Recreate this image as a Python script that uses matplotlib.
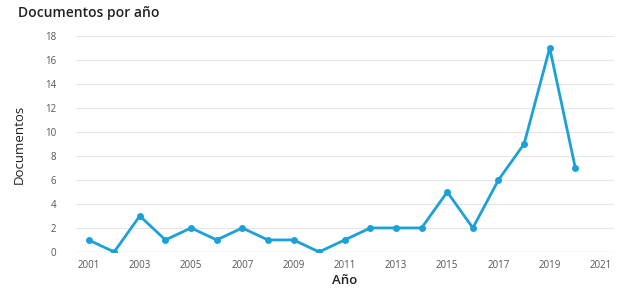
import matplotlib
matplotlib.use("Agg")
import matplotlib.pyplot as plt

plt.rcParams['font.family'] = ['Open Sans', 'DejaVu Sans']

# --- data ---
years = [2001, 2002, 2003, 2004, 2005, 2006, 2007, 2008, 2009, 2010,
         2011, 2012, 2013, 2014, 2015, 2016, 2017, 2018, 2019, 2020]
docs = [1, 0, 3, 1, 2, 1, 2, 1, 1, 0, 1, 2, 2, 2, 5, 2, 6, 9, 17, 7]
x_ticks = list(range(2001, 2022, 2))
y_ticks = list(range(0, 19, 2))

fig = plt.figure(figsize=(6.42, 2.95), dpi=100)
ax = fig.add_axes([0.118, 0.146, 0.838, 0.732])

line_color = '#1ba1d8'
ax.plot(years, docs, color=line_color, lw=2, marker='o', ms=4, zorder=3)

ax.set_xlim(2000.5, 2021.5)
ax.set_ylim(0, 18)
ax.set_xticks(x_ticks)
ax.set_yticks(y_ticks)
ax.tick_params(length=0, labelsize=7, colors='#555555', pad=6)
ax.tick_params(axis='y', pad=14)

# horizontal grid only
for y in y_ticks[1:]:
    ax.axhline(y, color='#e6e6e6', lw=0.8, zorder=0)
ax.axhline(0, color='#d0def0', lw=1, zorder=0)
for s in ax.spines.values():
    s.set_visible(False)

ax.set_xlabel('Año', fontsize=9.5, fontweight='semibold', color='#222222', labelpad=2)
ax.set_ylabel('Documentos', fontsize=9.5, color='#222222', labelpad=14)
fig.text(0.028, 0.955, 'Documentos por año', fontsize=10, fontweight='semibold',
         color='#222222', va='center', ha='left')

fig.savefig('out.png', dpi=100)
